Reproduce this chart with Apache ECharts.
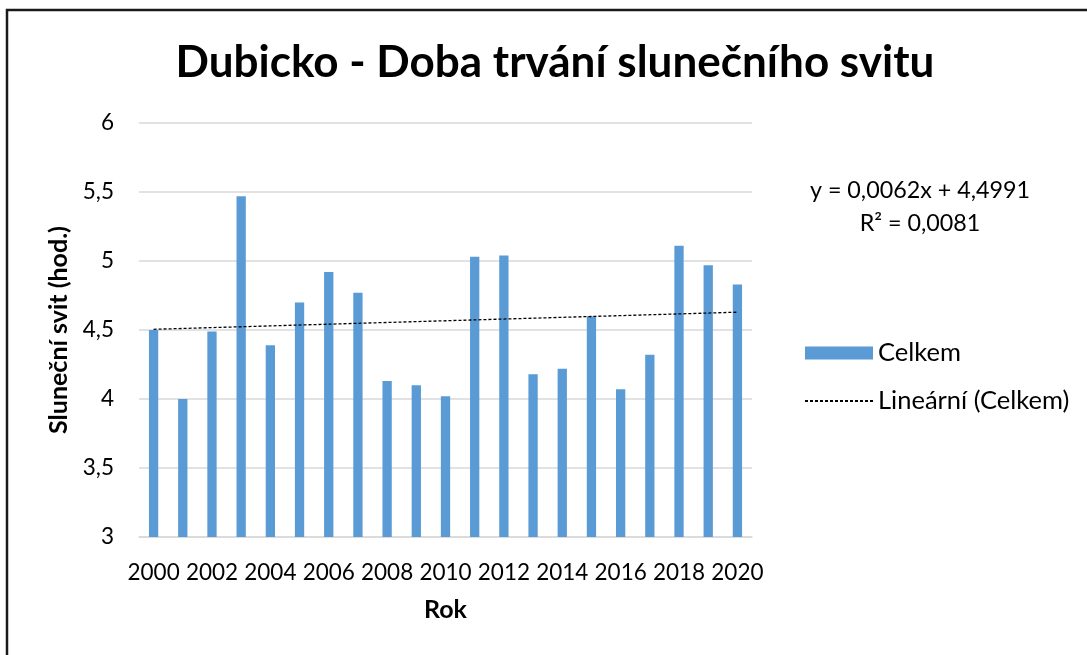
<!DOCTYPE html>
<html>
<head>
<meta charset="utf-8">
<script src="https://cdn.jsdelivr.net/npm/echarts@6/dist/echarts.min.js"></script>
<style>
  html, body { margin: 0; padding: 0; background: #fff; }
  #main { width: 1087px; height: 655px; }
</style>
</head>
<body>
<div id="main"></div>
<script>
// data
const years = ["2000", "2001", "2002", "2003", "2004", "2005", "2006", "2007", "2008", "2009", "2010",
  "2011", "2012", "2013", "2014", "2015", "2016", "2017", "2018", "2019", "2020"];
const celkem = [4.50, 4.00, 4.49, 5.47, 4.39, 4.70, 4.92, 4.77, 4.13, 4.10, 4.02,
  5.03, 5.04, 4.18, 4.22, 4.60, 4.07, 4.32, 5.11, 4.97, 4.83];
// trend line ends (Excel linear trendline, first and last year)
const trendEnds = [4.505, 4.629];
const equationLines = ["y = 0,0062x + 4,4991", "R² = 0,0081"];

const font = "Lato";
const trendData = years.map((y, i) => (i === 0 ? trendEnds[0] : i === years.length - 1 ? trendEnds[1] : null));

const myChart = echarts.init(document.getElementById("main"));

const option = {
  backgroundColor: "#fff",
  textStyle: { fontFamily: font },
  title: {
    text: "Dubicko - Doba trvání slunečního svitu",
    left: 550,
    top: 36,
    textAlign: "center",
    textStyle: { fontFamily: font, fontSize: 44, fontWeight: "bold", color: "#000" },
  },
  grid: { left: 139, right: 335, top: 123, bottom: 118 },
  legend: {
    orient: "vertical",
    left: 804,
    top: 340,
    padding: 0,
    itemWidth: 68,
    itemHeight: 13,
    itemGap: 22,
    textStyle: { fontFamily: font, fontSize: 25.5, color: "#000" },
    data: [
      { name: "Celkem", icon: "rect" },
      { name: "Lineární (Celkem)", itemStyle: { color: "transparent", borderWidth: 0 } },
    ],
  },
  xAxis: {
    type: "category",
    data: years,
    name: "Rok",
    nameLocation: "middle",
    nameGap: 60,
    nameTextStyle: { fontFamily: font, fontSize: 25, fontWeight: "bold", color: "#000" },
    axisLine: { lineStyle: { color: "#d9d9d9", width: 1.5 } },
    axisTick: { show: false },
    axisLabel: { interval: 1, margin: 24, fontSize: 22.5, color: "#000", fontFamily: font },
  },
  yAxis: {
    type: "value",
    min: 3,
    max: 6,
    interval: 0.5,
    name: "Sluneční svit (hod.)",
    nameLocation: "middle",
    nameGap: 68,
    nameTextStyle: { fontFamily: font, fontSize: 25, fontWeight: "bold", color: "#000" },
    axisLine: { show: false },
    axisTick: { show: false },
    axisLabel: {
      margin: 25,
      fontSize: 22.5,
      color: "#000",
      fontFamily: font,
      formatter: (v) => String(v).replace(".", ","),
    },
    splitLine: { lineStyle: { color: "#d9d9d9", width: 1.5 } },
  },
  series: [
    {
      name: "Celkem",
      type: "bar",
      data: celkem,
      barWidth: 9.3,
      itemStyle: { color: "#5b9bd5" },
      z: 2,
    },
    {
      name: "Lineární (Celkem)",
      type: "line",
      data: trendData,
      connectNulls: true,
      symbol: "none",
      lineStyle: { color: "#000", width: 1.3, type: [3, 2] },
      itemStyle: { color: "#000" },
      z: 3,
    },
  ],
  graphic: [
    {
      type: "rect",
      shape: { x: 7, y: 10, width: 1200, height: 800 },
      style: { fill: "none", stroke: "#1a1a1a", lineWidth: 2.5 },
      silent: true,
    },
    {
      type: "text",
      x: 920,
      y: 190,
      style: { text: equationLines[0], font: "23.3px " + font, fill: "#000", textAlign: "center", textVerticalAlign: "middle" },
    },
    {
      type: "text",
      x: 920,
      y: 223,
      style: { text: equationLines[1], font: "23.3px " + font, fill: "#000", textAlign: "center", textVerticalAlign: "middle" },
    },
  ],
};

myChart.setOption(option);
</script>
</body>
</html>
